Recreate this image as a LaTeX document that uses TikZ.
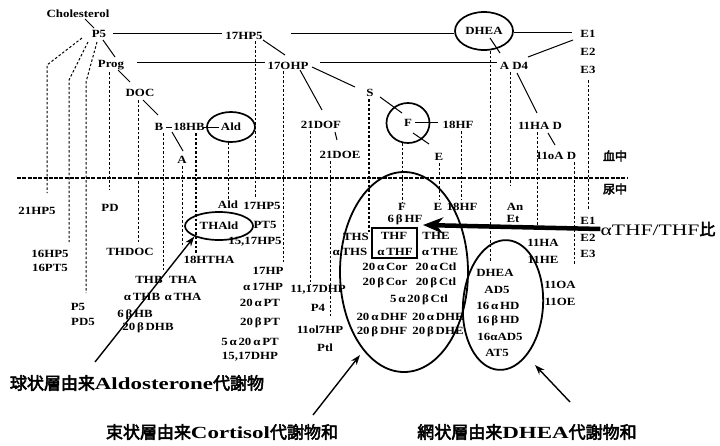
\documentclass[tikz,border=0pt]{standalone}
\usepackage{fontspec}
\setmainfont{Liberation Serif}[FakeStretch=1.17]
\newfontfamily\bigfont{Liberation Serif}[FakeStretch=1.35]
\newfontfamily\cjk{Noto Sans CJK JP}[FakeBold=3]
\newcommand\cj[1]{{\mdseries\cjk #1}}
\usetikzlibrary{shapes.geometric,arrows.meta}
\newcommand\smf{\fontsize{11}{12}\selectfont\bfseries}
\newcommand\ga{\,α\,}
\newcommand\gb{\,β\,}
\begin{document}
\begin{tikzpicture}[x=1pt,y=-1pt,
  lbl/.style={inner sep=0.5pt, font=\smf},
  conn/.style={line width=1pt},
  dl/.style={line width=1pt, dash pattern=on 2.5pt off 2pt},
  oval/.style={draw, ellipse, line width=1.7pt, inner sep=0pt, font=\smf},
  bigl/.style={inner sep=0pt, font=\fontsize{17}{18}\selectfont\bigfont\bfseries},
  arr/.style={line width=1.4pt, -{Stealth[length=10pt,width=7pt]}},
]
\useasboundingbox (0,0) rectangle (720,445);

% ---------- upper part (blood) ----------
\node[lbl] (chol) at (78,14) {Cholesterol};
\node[lbl] (P5) at (99,34) {P5};
\node[lbl] (hp5) at (244,36) {17HP5};
\node[oval,minimum width=58pt,minimum height=38pt] (dhea) at (484,31) {DHEA};
\node[lbl] (E1t) at (588,34) {E1};
\node[lbl] (E2t) at (588,52) {E2};
\node[lbl] (E3t) at (588,70) {E3};
\node[lbl] (ad4) at (514,66) {A D4};
\node[lbl] (prog) at (111,65) {Prog};
\node[lbl] (ohp) at (288,66) {17OHP};
\node[lbl] (doc) at (140,93) {DOC};
\node[lbl] (B) at (159,127) {B};
\node[lbl] (hb18) at (189,127) {18HB};
\node[oval,minimum width=48pt,minimum height=30pt] (ald) at (231,127) {Ald};
\node[lbl] (A) at (182,160) {A};
\node[lbl] (S) at (370,93) {S};
\node[lbl] (dof) at (321,125) {21DOF};
\node[lbl] (doe) at (340,155) {21DOE};
\node[oval,minimum width=43pt,minimum height=40pt] (F) at (408,123) {F};
\node[lbl] (hf18) at (458,125) {18HF};
\node[lbl] (Et) at (439,157) {E};
\node[lbl] (had) at (540,126) {11HA D};
\node[lbl] (oad) at (556,156) {11oA D};
\node[inner sep=0pt,font=\fontsize{12}{13}\selectfont] (blood) at (615,156) {\cj{血中}};
\node[inner sep=0pt,font=\fontsize{12}{13}\selectfont] (urine) at (615,189) {\cj{尿中}};

% solid connectors (upper)
\draw[conn] (85,19) coordinate (c1) -- (94,28) coordinate (c2);          % chol - P5
\draw[conn] (113,33) coordinate (c3) -- (222,33) coordinate (c3b);       % P5 - 17HP5
\draw[conn] (291,33) coordinate (c4) -- (dhea.west |- 0,33);             % 17HP5 - DHEA
\draw[conn] (dhea.east |- 0,32) -- (572,32) coordinate (c5);            % DHEA - E1
\draw[conn] (573,40) coordinate (c6) -- (528,57) coordinate (c6b);       % E1 - AD4
\draw[conn] (490,38) coordinate (c7) -- (500,53) coordinate (c7b);       % DHEA - AD4
\draw[conn] (103,40) coordinate (c8) -- (115,57) coordinate (c8b);       % P5 - Prog
\draw[conn] (137,62) coordinate (c9) -- (265,62) coordinate (c9b);       % Prog - 17OHP
\draw[conn] (320,62) coordinate (c10) -- (497,62) coordinate (c10b);     % 17OHP - AD4
\draw[conn] (263,40) coordinate (c11) -- (285,55) coordinate (c11b);     % 17HP5 - 17OHP
\draw[conn] (118,70) coordinate (c12) -- (130,82) coordinate (c12b);     % Prog - DOC
\draw[conn] (143,100) coordinate (c13) -- (158,115) coordinate (c13b);   % DOC - B
\draw[conn] (166,127) coordinate (c14) -- (172,127) coordinate (c14b);   % B - 18HB
\draw[conn] (203,127) coordinate (c15) -- (219,127) coordinate (c15b);   % 18HB - Ald
\draw[conn] (172,132) coordinate (c16) -- (183,151) coordinate (c16b);   % B - A
\draw[conn] (312,67) coordinate (c17) -- (355,87) coordinate (c17b);     % 17OHP - S
\draw[conn] (300,70) coordinate (c18) -- (322,110) coordinate (c18b);    % 17OHP - 21DOF
\draw[conn] (335,132) coordinate (c19) -- (337,140) coordinate (c19b);   % 21DOF - 21DOE
\draw[conn] (380,97) coordinate (c20) -- (402,113) coordinate (c20b);    % S - F
\draw[conn] (415,122) coordinate (c21) -- (438,122) coordinate (c21b);   % F - 18HF
\draw[conn] (413,133) coordinate (c22) -- (429,144) coordinate (c22b);   % F - E
\draw[conn] (517,73) coordinate (c23) -- (537,113) coordinate (c23b);    % AD4 - 11HAD
\draw[conn] (548,133) coordinate (c24) -- (555,145) coordinate (c24b);   % 11HAD - 11oAD

% separator blood / urine
\draw[line width=1.3pt, dash pattern=on 4pt off 1.3pt] (17,178) coordinate (sepL) -- (628,178) coordinate (sepR);

% ---------- lower part (urine) ----------
\node[lbl] (hp21) at (37,211) {21HP5};
\node[lbl] (hp16) at (50,254) {16HP5};
\node[lbl] (pt16) at (50,268) {16PT5};
\node[lbl] (P5b) at (78,307) {P5};
\node[lbl] (pd5) at (83,322) {PD5};
\node[lbl] (pd) at (110,208) {PD};
\node[lbl] (thdoc) at (130,252) {THDOC};
\node[lbl] (thb) at (149,280) {THB};
\node[lbl] (tha) at (183,280) {THA};
\node[lbl] (athb) at (142,297) {α\,THB};
\node[lbl] (atha) at (183,297) {α\,THA};
\node[lbl] (hb6) at (135,315) {6\gb HB};
\node[lbl] (dhb) at (148,328) {20\gb DHB};
\node[lbl] (htha) at (209,260) {18HTHA};
\node[lbl] (aldb) at (228,205) {Ald};
\node[oval,minimum width=68pt,minimum height=28pt] (thald) at (219,226) {THAld};
\node[lbl] (hp5b) at (262,206) {17HP5};
\node[lbl] (pt5) at (265,225) {PT5};
\node[lbl] (hp1517) at (255,242) {15,17HP5};
\node[lbl] (hp17) at (268,271) {17HP};
\node[lbl] (ahp17) at (263,287) {α\,17HP};
\node[lbl] (apt) at (260,303) {20\ga PT};
\node[lbl] (bpt) at (260,323) {20\gb PT};
\node[lbl] (aapt) at (250,342) {5\ga 20\ga PT};
\node[lbl] (dhp) at (250,357) {15,17DHP};
\node[lbl] (dhp1117) at (318,290) {11,17DHP};
\node[lbl] (P4) at (318,308) {P4};
\node[lbl] (ol7) at (320,330) {11ol7HP};
\node[lbl] (ptl) at (325,348) {Ptl};
\node[lbl] (ths) at (356,237) {THS};
\node[lbl] (aths) at (350,252) {α\,THS};
\node[lbl] (Fb) at (402,207) {F};
\node[lbl] (hf6) at (405,220) {6\gb HF};
\node[lbl] (Eb) at (438,207) {E};
\node[lbl] (hf18b) at (462,207) {18HF};
\node[lbl] (thf) at (394,236) {THF};
\node[lbl] (athf) at (395,252) {α\,THF};
\node[draw,line width=1.2pt,minimum width=45pt,minimum height=30pt,inner sep=0pt] (box) at (394.5,243) {};
\node[lbl] (the) at (436,236) {THE};
\node[lbl] (athe) at (440,252) {α\,THE};
\node[lbl] (acor) at (385,267) {20\ga Cor};
\node[lbl] (actl) at (436,267) {20\ga Ctl};
\node[lbl] (bcor) at (385,283) {20\gb Cor};
\node[lbl] (bctl) at (436,283) {20\gb Ctl};
\node[lbl] (abctl) at (419,300) {5\ga 20\gb Ctl};
\node[lbl] (adhf) at (382,317) {20\ga DHF};
\node[lbl] (adhe) at (438,317) {20\ga DHE};
\node[lbl] (bdhf) at (382,332) {20\gb DHF};
\node[lbl] (bdhe) at (438,332) {20\gb DHE};
\node[lbl] (an) at (515,207) {An};
\node[lbl] (et2) at (513,219) {Et};
\node[lbl] (ha11) at (543,243) {11HA};
\node[lbl] (he11) at (543,260) {11HE};
\node[lbl] (oa11) at (560,285) {11OA};
\node[lbl] (oe11) at (560,302) {11OE};
\node[lbl] (E1b) at (588,221) {E1};
\node[lbl] (E2b) at (588,238) {E2};
\node[lbl] (E3b) at (588,254) {E3};
\node[lbl] (dheab) at (495,273) {DHEA};
\node[lbl] (ad5) at (497,290) {AD5};
\node[lbl] (hda) at (498,306) {16\ga HD};
\node[lbl] (hdb) at (498,321) {16\gb HD};
\node[lbl] (ad516) at (500,337) {16αAD5};
\node[lbl] (at5) at (497,353) {AT5};

% big ellipses
\node[draw,ellipse,line width=1.8pt,minimum width=128pt,minimum height=200pt,inner sep=0pt] (cortE) at (404,272) {};
\node[draw,ellipse,line width=1.8pt,minimum width=80pt,minimum height=130pt,inner sep=0pt,rotate=-4] (dheaE) at (503,305) {};

% dashed verticals (blood -> urine)
\draw[dl] (82,38) coordinate (v1a) -- (47,65) -- (47,193) coordinate (v1b);
\draw[dl] (88,42) coordinate (v2a) -- (69,80) -- (69,242) coordinate (v2b);
\draw[dl] (97,42) coordinate (v3a) -- (86,82) -- (86,293) coordinate (v3b);
\draw[dl] (109,72) coordinate (v4a) -- (109,190) coordinate (v4b);
\draw[dl] (138,100) coordinate (v5a) -- (138,242) coordinate (v5b);
\draw[dl] (163,133) coordinate (v6a) -- (163,270) coordinate (v6b);
\draw[dl] (182,166) coordinate (v7a) -- (182,247) coordinate (v7b);
\draw[dl,line width=1.4pt] (196,133) coordinate (v8a) -- (196,253) coordinate (v8b);
\draw[dl] (228,142) coordinate (v9a) -- (228,199) coordinate (v9b);
\draw[dl] (255,41) coordinate (v10a) -- (255,198) coordinate (v10b);
\draw[dl] (283,71) coordinate (v11a) -- (283,262) coordinate (v11b);
\draw[dl] (310,131) coordinate (v12a) -- (310,285) coordinate (v12b);
\draw[dl] (330,161) coordinate (v13a) -- (330,316) coordinate (v13b);
\draw[dl,line width=1.3pt] (369,99) coordinate (v14a) -- (369,232) coordinate (v14b);
\draw[dl] (402,143) coordinate (v15a) -- (402,202) coordinate (v15b);
\draw[dl] (439,163) coordinate (v16a) -- (439,200) coordinate (v16b);
\draw[dl] (461,131) coordinate (v17a) -- (461,200) coordinate (v17b);
\draw[dl] (490,51) coordinate (v18a) -- (490,262) coordinate (v18b);
\draw[dl] (510,72) coordinate (v19a) -- (510,186) coordinate (v19b);
\draw[dl] (537,132) coordinate (v20a) -- (537,230) coordinate (v20b);
\draw[dl] (574,162) coordinate (v21a) -- (574,265) coordinate (v21b);
\draw[dl] (588,80) coordinate (v22a) -- (588,210) coordinate (v22b);

% ratio arrow
\node[inner sep=0pt,font=\fontsize{16}{17}\selectfont\bigfont] (ratio) at (658,229) {αTHF/THF\cj{比}};
\draw[line width=4.5pt,-{Stealth[length=20pt,width=16pt]}] (ratio.west) -- (423,225) coordinate (tipR);

% zone labels and arrows
\node[bigl] (lab1) at (137,383) {\cj{球状層由来}Aldosterone\cj{代謝物}};
\node[bigl] (lab2) at (222,432) {\cj{束状層由来}Cortisol\cj{代謝物和}};
\node[bigl] (lab3) at (527,432) {\cj{網状層由来}DHEA\cj{代謝物和}};
\draw[arr] (95,362) coordinate (a1) -- (thald.south west);
\draw[arr] (313,415) coordinate (a2) -- (360,355) coordinate (a2t);
\draw[arr] (570,402) coordinate (a3) -- (535,365) coordinate (a3t);
\end{tikzpicture}
\end{document}
